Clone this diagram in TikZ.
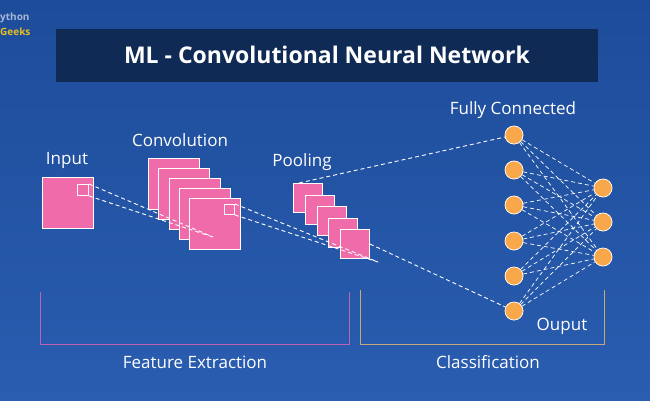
\documentclass[tikz,border=0pt]{standalone}
\usepackage{fontspec}
\setmainfont{Open Sans}
\usetikzlibrary{calc}
\definecolor{bgA}{HTML}{1D4C9A}
\definecolor{bgB}{HTML}{2A5DB0}
\definecolor{bar}{HTML}{102A56}
\definecolor{pinkc}{HTML}{F06BAA}
\definecolor{orangec}{HTML}{F8A84A}
\definecolor{pinkline}{HTML}{C060B0}
\definecolor{tanline}{HTML}{C8A878}
\definecolor{gold}{HTML}{E8C020}
\begin{document}
\begin{tikzpicture}[x=1pt,y=-1pt,
  lbl/.style={text=white,font=\fontsize{17}{19}\selectfont},
  fmap/.style={fill=pinkc,draw=white,line width=1pt},
  kern/.style={draw=white,line width=1pt},
  dline/.style={white,line width=0.9pt,dash pattern=on 4pt off 3pt},
  neuron/.style={circle,fill=orangec,draw=white,line width=0.6pt,minimum size=18pt,inner sep=0pt}]
\shade[top color=bgA,bottom color=bgB] (0,0) rectangle (650,400);
\useasboundingbox (0,0) rectangle (650,400);
% watermark
\node[anchor=west,text=white!60!bgA,font=\bfseries\fontsize{10}{11}\selectfont,inner sep=0] (wm1) at (0,18) {ython};
\node[anchor=west,text=gold,font=\bfseries\fontsize{10}{11}\selectfont,inner sep=0] (wm2) at (0,32) {Geeks};
% title
\fill[bar] (56,29) rectangle (598,82);
\node[text=white,font=\bfseries\fontsize{23}{26}\selectfont] (title) at (327,55) {ML - Convolutional Neural Network};
% input
\node[fmap,minimum size=51pt,inner sep=0,anchor=north west] (in) at (42,177) {};
\node[kern,minimum size=11pt,inner sep=0,anchor=north west] (ink) at (77,184) {};
\node[lbl] (tin) at (67,160) {Input};
% convolution
\foreach \i in {0,...,4}{
  \node[fmap,minimum size=51pt,inner sep=0,anchor=north west] (c\i) at ({148+10.3*\i},{158+10*\i}) {};
}
\coordinate (cfoc) at (213,237);
\draw[dline] (ink.north east) -- (cfoc);
\draw[dline] (ink.south east) -- (cfoc);
\node[lbl] (tconv) at (180,140) {Convolution};
\node[kern,minimum size=10pt,inner sep=0,anchor=north west] (ck) at (224,204) {};
% pooling
\foreach \i in {0,...,4}{
  \node[fmap,minimum size=29pt,inner sep=0,anchor=north west] (p\i) at ({293+11.75*\i},{183+11.5*\i}) {};
}
\coordinate (pfoc) at (378,262);
\draw[dline] (ck.north east) -- (pfoc);
\draw[dline] (ck.south east) -- (pfoc);
\node[lbl] (tpool) at (302,162) {Pooling};
% fully connected
\foreach \y [count=\k] in {135,170,205,241,276,311}{
  \node[neuron] (h\k) at (514,\y) {};
}
\foreach \y [count=\k] in {188,222,257}{
  \node[neuron] (o\k) at (603,\y) {};
}
\draw[dline] ($(p0.north west)+(6,0)$) -- (h1);
\draw[dline] (p4.east) -- (h6);
\foreach \a in {1,...,6}{\foreach \b in {1,2,3}{\draw[dline,line width=0.7pt] (h\a) -- (o\b);}}
\foreach \a in {1,...,6}{\node[neuron] at (h\a) {};}
\foreach \b in {1,2,3}{\node[neuron] at (o\b) {};}
\node[lbl] (tfc) at (513,110) {Fully Connected};
\node[lbl] (tout) at (562,326) {Ouput};
% brackets
\draw[pinkline,line width=1pt] (40,292) -- (40,344) -- (349,344) -- (349,292);
\draw[tanline,line width=1pt] (360,290) -- (360,344) -- (604,344) -- (604,290);
\node[lbl] (tfe) at (195,362) {Feature Extraction};
\node[lbl] (tcl) at (488,362) {Classification};
\end{tikzpicture}
\end{document}
